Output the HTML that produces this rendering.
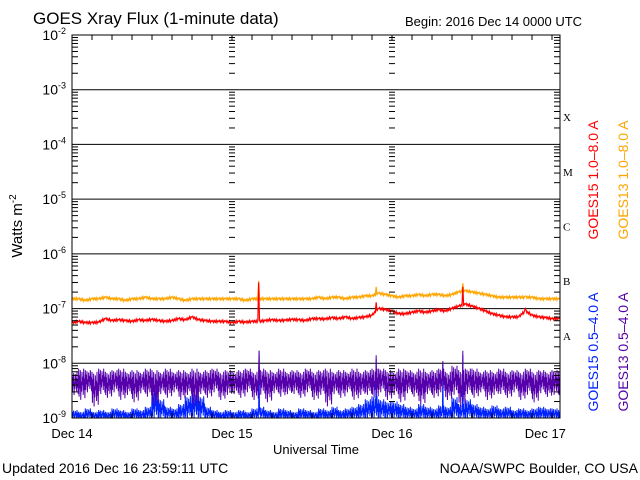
<!DOCTYPE html>
<html><head><meta charset="utf-8"><style>
body{margin:0;background:#fff}
svg{display:block;font-family:"Liberation Sans",sans-serif}
</style></head><body>
<svg id="c" width="640" height="480" xmlns="http://www.w3.org/2000/svg">
<g id="grid"></g><g id="series"></g><g id="axes"></g>
<text x="33" y="24" font-size="17">GOES Xray Flux (1-minute data)</text>
<text x="405" y="26" font-size="13">Begin:  2016 Dec 14 0000 UTC</text>
<text transform="translate(22,226) rotate(-90)" text-anchor="middle" font-size="15">Watts m<tspan dy="-6" font-size="10">-2</tspan></text>
<text x="316" y="454" text-anchor="middle" font-size="13">Universal Time</text>
<text x="2" y="473" font-size="14">Updated 2016 Dec 16 23:59:11 UTC</text>
<text x="638" y="473" text-anchor="end" font-size="14">NOAA/SWPC Boulder, CO USA</text>
<text transform="translate(598,180) rotate(-90)" text-anchor="middle" font-size="14" fill="#ff0000">GOES15 1.0–8.0 A</text>
<text transform="translate(628,180) rotate(-90)" text-anchor="middle" font-size="14" fill="#ffa500">GOES13 1.0–8.0 A</text>
<text transform="translate(598,352) rotate(-90)" text-anchor="middle" font-size="14" fill="#0022ff">GOES15 0.5–4.0 A</text>
<text transform="translate(628,352) rotate(-90)" text-anchor="middle" font-size="14" fill="#5500aa">GOES13 0.5–4.0 A</text>
</svg>
<script>
const dayLabels=["Dec 14","Dec 15","Dec 16","Dec 17"];
const dayLabelHours=[0,24,48,71];
const decadeExps=[-2,-3,-4,-5,-6,-7,-8,-9];
const classLabels=["X","M","C","B","A"];
const orange=[1.5,1.5,1.4,1.5,1.5,1.6,1.5,1.5,1.4,1.5,1.5,1.6,1.5,1.5,1.5,1.6,1.5,1.4,1.5,1.5,1.5,1.5,1.5,1.5,
1.5,1.5,1.4,1.5,1.5,1.5,1.5,1.5,1.5,1.5,1.5,1.5,1.5,1.6,1.5,1.6,1.6,1.5,1.6,1.6,1.7,1.7,1.9,1.8,
1.7,1.6,1.7,1.7,1.8,1.7,1.8,1.8,1.7,1.8,2.0,2.1,2.0,1.9,1.8,1.7,1.6,1.6,1.6,1.6,1.6,1.6,1.5,1.5,1.5,1.5,1.5];
const red=[5.5,5.8,5.5,5.5,5.6,6.5,6.0,6.2,6.0,5.8,6.2,6.0,6.3,6.0,5.8,6.0,6.5,6.2,7.0,6.2,6.0,5.8,5.8,5.8,
5.5,5.8,5.6,5.8,5.8,6.0,6.2,6.0,6.1,6.3,6.2,6.0,6.5,6.5,6.4,6.8,6.5,7.0,6.5,6.8,7.0,7.5,10,9.5,
9,8,8,8.5,9,8.5,9,9.5,9,10,11,12,11,10,9,8,7.5,7,7,7,9,7.5,7,6.8,6.5,6.5,6.3];
const longSpikeHours=[28.05,45.6,58.65,68.0];
const orangeSpike=[3.2,2.5,2.9,1.7];
const redSpike=[3.0,1.3,2.5,1.0];
const purpleHi=[7,8,7.5,7,8,7,7.5,8,7,7.5,7,8,7.5,7,8,7,7.5,7,8,7,7.5,8,7,7.5,
7,7.5,8,7,8,7.5,7,8,7,7.5,7,8,7,7.5,8,7,7.5,7,8,7,7.5,8,8,7.5,
7,8,7.5,7,8,7,7.5,8,7,9,7.5,8,8,7,7.5,7,8,7,7.5,7,8,7,7.5,7,7.5,7];
const purpleLo=[2.5,2,2.8,1.5,2.6,2.2,2.8,2,2.5,1.8,2.7,2.3,1.6,2.6,2.2,2.8,2,2.5,1.5,2.6,2.2,2.8,2,2.5,
2.6,2.2,2.8,2,2.5,1.8,2.7,2.3,2.6,2.6,2.2,2.8,2,2.5,1.5,2.6,2.2,2.8,2,2.5,2.5,2.2,2.8,2,
2.5,1.8,2.7,2.3,1.6,2.6,2.2,2.8,2,2.5,1.5,2.6,2.2,2.8,2,2.5,2.6,2.2,2.8,2,2.5,1.8,2.7,2.3,2.5,2.2];
const purpleSpikeHours=[28.05,45.6,58.65,55.6];
const purpleSpikeVals=[17,14,17,11];
const blueHi=[1.4,1.3,1.5,1.3,1.4,1.3,1.5,1.4,1.3,1.5,1.4,1.6,3.0,2.2,1.6,1.5,1.8,2.5,3,2.5,1.6,1.4,1.3,1.4,
1.3,1.4,1.3,1.5,1.6,1.4,1.3,1.5,1.4,1.3,1.5,1.4,1.3,1.5,1.4,1.6,1.4,1.5,1.6,1.8,2.2,2.5,2.2,2.0,
2.0,1.8,1.6,1.5,1.8,1.6,1.5,1.7,1.6,2.4,1.8,2.2,1.8,1.6,1.5,1.7,1.5,1.6,1.4,1.5,1.4,1.5,1.6,1.5,1.5,1.4];
const blueSpikeHours=[28.05,45.6,58.65,12.5,55.6];
const blueSpikeVals=[17,12,14,4,10];
const X0=72,X1=560,DAY=160,TOP=35,BOT=418,DEC=(BOT-TOP)/7,HMAX=(X1-X0)/DAY*24;
const xs=h=>X0+h/24*DAY;
const ys=v=>Math.min(BOT,Math.max(TOP,BOT-(Math.log10(v)+9)*DEC));
const NS="http://www.w3.org/2000/svg";
function mk(t,a,p){const e=document.createElementNS(NS,t);for(const k in a)e.setAttribute(k,a[k]);p.appendChild(e);return e;}
const grid=document.getElementById('grid'),ser=document.getElementById('series'),ax=document.getElementById('axes');
decadeExps.forEach(ex=>{const y=ys(Math.pow(10,ex));
 if(ex>-9&&ex<-2){const l=mk('line',{x1:X0,x2:X1,y1:y,y2:y,stroke:'#000','stroke-width':1},grid);
 }
 const t=mk('text',{x:66,y:y+5,'text-anchor':'end','font-size':14},ax);
 
 t.innerHTML='10<tspan dy="-6" font-size="9">'+ex+'</tspan>';
});
for(let ex=-9;ex<-2;ex++)for(let m=2;m<10;m++){const y=ys(m*Math.pow(10,ex));
 [[X0,X0+6],[X1-6,X1]].forEach(([a,b])=>mk('line',{x1:a,x2:b,y1:y,y2:y,stroke:'#000'},ax));
 [1,2].forEach(d=>{const x=xs(d*24);mk('line',{x1:x-3,x2:x+3,y1:y,y2:y,stroke:'#000'},ax);});}
for(let h=3;h<HMAX;h+=3){const x=xs(h);mk('line',{x1:x,x2:x,y1:TOP,y2:TOP+5,stroke:'#000'},ax);mk('line',{x1:x,x2:x,y1:BOT,y2:BOT-5,stroke:'#000'},ax);}
classLabels.forEach((c,i)=>{const t=mk('text',{x:563,y:ys(Math.sqrt(10)*Math.pow(10,-4-i))+4,'font-size':11,'font-family':'Liberation Serif,serif'},ax);
 t.textContent=c;});
dayLabels.forEach((d,i)=>{const t=mk('text',{x:Math.min(xs(dayLabelHours[i]),548),y:438,'text-anchor':'middle','font-size':13},ax);
 t.textContent=d;});
const frame=mk('rect',{x:X0,y:TOP,width:X1-X0,height:BOT-TOP,fill:'none',stroke:'#000'},ax);

const FR=[1,0.15,0.8,0.4,0.95,0.05,0.6,0.3,0.9,0.5,0.75,0.2,1,0.35,0.7,0.1];
function noisy(hi,lo,sh,sv,color,name){let p=[];hi.forEach((v,i)=>{FR.forEach((f,k)=>{const h=i+k/FR.length;if(h>HMAX)return;
  let L=Math.log10(lo[i]),H=Math.log10(v);let val=Math.pow(10,L+(H-L)*f);
  sh.forEach((s,j)=>{if(Math.abs(h-s)<0.5/FR.length)val=sv[j];});
  p.push(xs(h).toFixed(2)+','+ys(val*1e-9).toFixed(1));});});
 const e=mk('polyline',{points:p.join(' '),fill:'none',stroke:color,'stroke-width':1},ser);}
noisy(blueHi,blueHi.map(()=>0.9),blueSpikeHours,blueSpikeVals,'#0022ff','series-goes15-short');
noisy(purpleHi,purpleLo,purpleSpikeHours,purpleSpikeVals,'#5500aa','series-goes13-short');
const JIT=[1,1.05,0.96,1.04,0.97,1.06,0.95,1.03];
function line(arr,sh,sv,color,name){let p=[];arr.forEach((v,i)=>{const n=i<arr.length-1?8:1;for(let k=0;k<n;k++){const h=i+k/8;if(h>HMAX)return;let nv=(k==0?v:v+(arr[i+1]-v)*k/8)*JIT[k];
  sh.forEach((s,j)=>{if(Math.abs(h-s)<1/16)nv=sv[j];});
  p.push(xs(h).toFixed(2)+','+ys(nv*1e-7).toFixed(1));}});
 const e=mk('polyline',{points:p.join(' '),fill:'none',stroke:color,'stroke-width':1.2},ser);}
line(orange,longSpikeHours,orangeSpike,'#ffa500','series-goes13-long');
line(red.map(v=>v/10),longSpikeHours,redSpike,'#ff0000','series-goes15-long');
</script>
</body></html>
